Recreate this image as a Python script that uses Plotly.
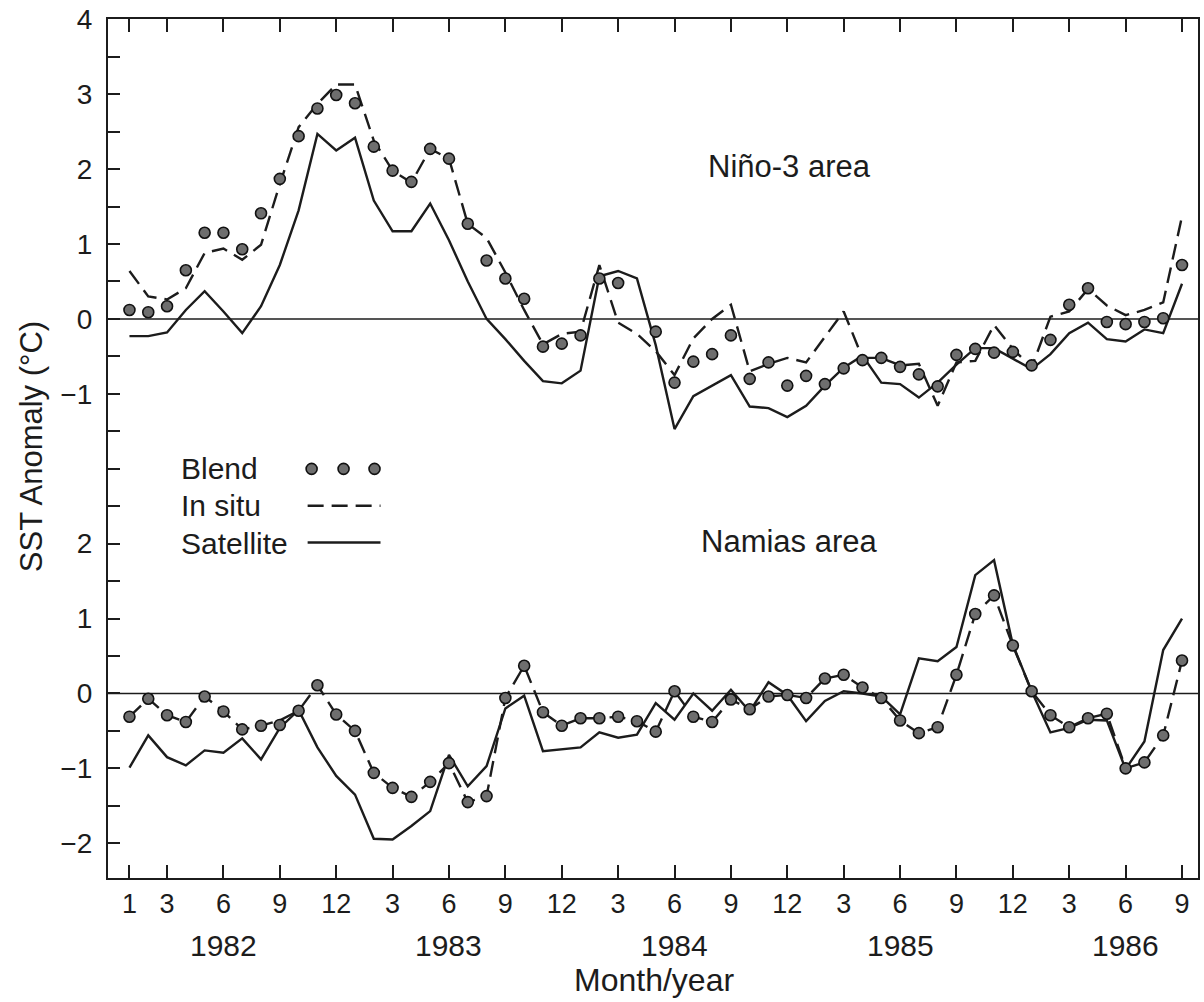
import plotly.graph_objects as go

# ---------------- data (SST anomaly, deg C), Jan 1982 .. Sep 1986 ----------------
years = [1982, 1983, 1984, 1985, 1986]
tick_months = [3, 6, 9, 12]          # labelled months (plus January of the first year)
n_months = 57

n3_blend = [0.12, 0.09, 0.17, 0.65, 1.15, 1.15, 0.93, 1.41, 1.87, 2.44, 2.81, 2.99,
            2.88, 2.30, 1.98, 1.83, 2.27, 2.14, 1.27, 0.78, 0.54, 0.27, -0.37, -0.33,
            -0.22, 0.54, 0.48, None, -0.17, -0.85, -0.57, -0.47, -0.22, -0.80, -0.58, -0.89,
            -0.76, -0.87, -0.66, -0.55, -0.52, -0.64, -0.74, -0.90, -0.48, -0.40, -0.45, -0.44,
            -0.62, -0.28, 0.19, 0.41, -0.04, -0.07, -0.04, 0.01, 0.72]
n3_insitu = [0.64, 0.30, 0.26, 0.41, 0.88, 0.94, 0.79, 0.99, 1.80, 2.56, 2.87, 3.13,
             3.13, 2.38, 1.98, 1.82, 2.27, 2.14, 1.27, 1.08, 0.62, 0.12, -0.34, -0.20,
             -0.17, 0.72, -0.05, -0.20, -0.43, -0.75, -0.26, 0.00, 0.19, -0.70, -0.60, -0.52,
             -0.58, -0.24, 0.10, -0.52, -0.52, -0.62, -0.60, -1.16, -0.58, -0.56, -0.08, -0.40,
             -0.65, 0.03, 0.10, 0.40, 0.18, 0.05, 0.12, 0.22, 1.37]
n3_sat = [-0.23, -0.23, -0.18, 0.12, 0.37, 0.10, -0.19, 0.17, 0.72, 1.45, 2.47, 2.25,
          2.42, 1.58, 1.17, 1.17, 1.54, 1.05, 0.50, 0.00, -0.27, -0.56, -0.83, -0.86,
          -0.69, 0.57, 0.64, 0.54, -0.35, -1.47, -1.03, -0.89, -0.75, -1.17, -1.19, -1.31,
          -1.16, -0.89, -0.65, -0.49, -0.85, -0.87, -1.05, -0.85, -0.61, -0.39, -0.39, -0.53,
          -0.67, -0.47, -0.19, -0.05, -0.27, -0.30, -0.14, -0.19, 0.47]

nam_blend = [-0.31, -0.07, -0.29, -0.38, -0.04, -0.24, -0.48, -0.43, -0.42, -0.23, 0.11, -0.28,
             -0.50, -1.06, -1.26, -1.38, -1.18, -0.93, -1.45, -1.37, -0.06, 0.37, -0.25, -0.43,
             -0.33, -0.33, -0.31, -0.37, -0.51, 0.03, -0.31, -0.38, -0.08, -0.21, -0.04, -0.02,
             -0.06, 0.20, 0.25, 0.08, -0.06, -0.36, -0.53, -0.45, 0.25, 1.06, 1.31, 0.64,
             0.03, -0.29, -0.45, -0.33, -0.27, -1.00, -0.92, -0.56, 0.44]
nam_insitu = [-0.31, -0.07, -0.29, -0.38, -0.04, -0.24, -0.48, -0.43, -0.36, -0.23, 0.11, -0.28,
              -0.50, -1.06, -1.26, -1.38, -1.18, -0.93, -1.45, -1.37, -0.06, 0.37, -0.25, -0.43,
              -0.33, -0.33, -0.31, -0.37, -0.51, 0.03, -0.31, -0.38, -0.08, -0.21, -0.04, -0.02,
              -0.06, 0.20, 0.25, 0.08, -0.06, -0.36, -0.53, -0.45, 0.25, 1.06, 1.31, 0.64,
              0.03, -0.29, -0.45, -0.33, -0.27, -1.00, -0.92, -0.56, 0.44]
nam_sat = [-0.99, -0.56, -0.85, -0.96, -0.76, -0.79, -0.60, -0.88, -0.46, -0.22, -0.72, -1.10,
           -1.35, -1.94, -1.95, -1.77, -1.57, -0.82, -1.24, -0.97, -0.20, -0.03, -0.77, -0.75,
           -0.72, -0.52, -0.59, -0.55, -0.13, -0.35, 0.00, -0.23, 0.05, -0.24, 0.15, -0.02,
           -0.37, -0.10, 0.03, 0.00, -0.04, -0.28, 0.47, 0.43, 0.62, 1.58, 1.78, 0.65,
           0.03, -0.52, -0.46, -0.35, -0.36, -1.01, -0.64, 0.58, 1.00]

upper_tick_labels = {4: "4", 3: "3", 2: "2", 1: "1", 0: "0", -1: "\u22121"}
lower_tick_labels = {2: "2", 1: "1", 0: "0", -1: "\u22121", -2: "\u22122"}
LOWER_OFFSET = -5  # lower panel (Namias) drawn 5 units below on the shared axis

# ---------------- layout constants ----------------
W, H = 1204, 1002
ML, MR, MT, MB = 108, 4, 15, 124
PW, PH = W - ML - MR, H - MT - MB
FONT = "Liberation Sans, Arial, Helvetica, sans-serif"
INK = "#1c1c1c"


def px_x(px):
    return (px - ML) / PW


def px_y(py):
    return (H - MB - py) / PH


x = list(range(n_months))
lower = lambda arr: [None if v is None else v + LOWER_OFFSET for v in arr]

line_w = 2.4
dash = "16px,8px"
marker = dict(size=11, color="#6e6e6e", line=dict(color="#111111", width=1.6))

fig = go.Figure()
# Nino-3
fig.add_trace(go.Scatter(x=x, y=n3_insitu, mode="lines", name="In situ (Niño-3)",
                         line=dict(color=INK, width=line_w, dash=dash), showlegend=False))
fig.add_trace(go.Scatter(x=x, y=n3_sat, mode="lines", name="Satellite (Niño-3)",
                         line=dict(color=INK, width=line_w), showlegend=False))
fig.add_trace(go.Scatter(x=x, y=n3_blend, mode="markers", name="Blend (Niño-3)",
                         marker=marker, showlegend=False))
# Namias
fig.add_trace(go.Scatter(x=x, y=lower(nam_insitu), mode="lines", name="In situ (Namias)",
                         line=dict(color=INK, width=line_w, dash=dash), showlegend=False))
fig.add_trace(go.Scatter(x=x, y=lower(nam_sat), mode="lines", name="Satellite (Namias)",
                         line=dict(color=INK, width=line_w), showlegend=False))
fig.add_trace(go.Scatter(x=x, y=lower(nam_blend), mode="markers", name="Blend (Namias)",
                         marker=marker, showlegend=False))

# zero lines for both panels
for y0 in (0, LOWER_OFFSET):
    fig.add_shape(type="line", xref="paper", yref="y", x0=0, x1=1, y0=y0, y1=y0,
                  line=dict(color=INK, width=1.6), layer="below")

# ticks
xtickvals = [0] + [i for i in x if (i % 12) + 1 in tick_months]
xticktext = [str((i % 12) + 1) for i in xtickvals]

ytickvals, yticktext = [], []
v = 4.0
while v >= -7.0 - 1e-9:
    ytickvals.append(v)
    lab = ""
    if abs(v - round(v)) < 1e-9:
        iv = int(round(v))
        if iv in upper_tick_labels:
            lab = upper_tick_labels[iv]
        elif (iv - LOWER_OFFSET) in lower_tick_labels:
            lab = lower_tick_labels[iv - LOWER_OFFSET]
    yticktext.append(lab)
    v -= 0.5

y_top = 4.004
y_bot = (316 - 878) / 75.3
x_left = (108 - 129.5) / 18.83
x_right = (1200 - 129.5) / 18.83

fig.update_layout(
    width=W, height=H,
    margin=dict(l=ML, r=MR, t=MT, b=MB),
    paper_bgcolor="white", plot_bgcolor="white",
    font=dict(family=FONT, size=27, color=INK),
    showlegend=False,
    xaxis=dict(range=[x_left, x_right], tickmode="array", tickvals=xtickvals, ticktext=xticktext,
               ticks="inside", ticklen=13, tickwidth=2, tickcolor=INK, tickangle=0,
               showline=True, linewidth=2.2, linecolor=INK, mirror="ticks",
               showgrid=False, zeroline=False, tickfont=dict(size=27), ticklabelstandoff=0),
    yaxis=dict(range=[y_bot, y_top], tickmode="array", tickvals=ytickvals, ticktext=yticktext,
               ticks="inside", ticklen=12, tickwidth=2, tickcolor=INK,
               showline=True, linewidth=2.2, linecolor=INK, mirror=True,
               showgrid=False, zeroline=False, tickfont=dict(size=28), ticklabelstandoff=8),
)

ann = []
# panel labels
ann.append(dict(text="Niño-3 area", x=px_x(791), y=px_y(163), xref="paper", yref="paper",
                showarrow=False, font=dict(size=31), xanchor="center", yanchor="middle"))
ann.append(dict(text="Namias area", x=px_x(790), y=px_y(540), xref="paper", yref="paper",
                showarrow=False, font=dict(size=31), xanchor="center", yanchor="middle"))
# year labels centred on June of each year
for k, yr in enumerate(years):
    ann.append(dict(text=str(yr), x=12 * k + 5, y=px_y(946), xref="x", yref="paper",
                    showarrow=False, font=dict(size=30), xanchor="center", yanchor="middle"))
# axis titles
ann.append(dict(text="Month/year", x=px_x(655), y=px_y(980), xref="paper", yref="paper",
                showarrow=False, font=dict(size=32), xanchor="center", yanchor="middle"))
ann.append(dict(text="SST Anomaly (°C)", x=px_x(31), y=px_y(445), xref="paper", yref="paper",
                showarrow=False, font=dict(size=31), textangle=-90,
                xanchor="center", yanchor="middle"))
# legend texts
for label, py in (("Blend", 467), ("In situ", 504), ("Satellite", 542)):
    ann.append(dict(text=label, x=px_x(179), y=px_y(py), xref="paper", yref="paper",
                    showarrow=False, font=dict(size=30), xanchor="left", yanchor="middle"))
fig.update_layout(annotations=ann)

# legend keys
for cx in (312, 344, 375):
    fig.add_shape(type="circle", xref="paper", yref="paper", xsizemode="pixel", ysizemode="pixel",
                  xanchor=px_x(cx), yanchor=px_y(467), x0=-5.5, x1=5.5, y0=-5.5, y1=5.5,
                  fillcolor="#6e6e6e", line=dict(color="#111111", width=1.6))
fig.add_shape(type="line", xref="paper", yref="paper", x0=px_x(308), x1=px_x(381),
              y0=px_y(504), y1=px_y(504), line=dict(color=INK, width=line_w, dash=dash))
fig.add_shape(type="line", xref="paper", yref="paper", x0=px_x(308), x1=px_x(381),
              y0=px_y(541), y1=px_y(541), line=dict(color=INK, width=line_w))

fig.write_html("out.html")
